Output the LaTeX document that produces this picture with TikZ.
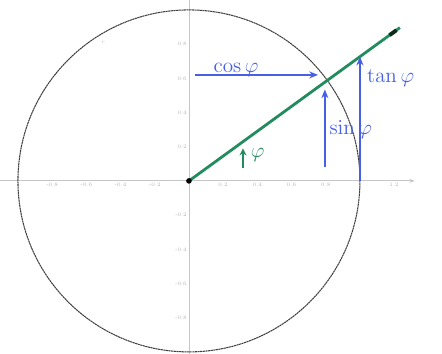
\documentclass[tikz,border=0pt]{standalone}
\usepackage{amsmath}
\usetikzlibrary{arrows.meta,positioning}

\definecolor{pengreen}{RGB}{35,140,95}
\definecolor{penblue}{RGB}{70,95,230}

\begin{document}
\begin{tikzpicture}[
  x=3.42cm, y=3.42cm,
  axis/.style={draw=gray!45, line width=0.5pt},
  ticklabel/.style={font=\fontsize{3}{3}\selectfont, text=gray!60, inner sep=1pt},
  circ/.style={draw=black!75, line width=0.6pt, dash pattern=on 1.2pt off 0.3pt},
  ray/.style={draw=pengreen, line width=1.6pt},
  pen/.style={-{Stealth[length=5pt,width=4pt]}, draw=penblue, line width=0.8pt},
  hand/.style={font=\large, text=penblue, inner sep=1pt}
]
\useasboundingbox (-1.105,-1.012) rectangle (1.480,1.058);

\coordinate (O) at (0,0);
\coordinate (xl) at (-1.105,0);
\coordinate (xr) at (1.32,0);
\coordinate (yb) at (0,-1.012);
\coordinate (yt) at (0,1.058);

\draw[axis, -{Stealth[length=3pt]}] (xl) -- (xr);
\draw[axis] (yb) -- (yt);
\foreach \v in {-0.8,-0.6,-0.4,-0.2,0.2,0.4,0.6,0.8,1.2}
  \node[ticklabel, below] (xt\v) at (\v,0) {\v};
\foreach \v in {-0.8,-0.6,-0.4,-0.2,0.2,0.4,0.6,0.8}
  \node[ticklabel, left] (yt\v) at (0,\v) {\v};

\draw[circ] (O) circle (1);
\node[ticklabel] (clabel) at (-0.50,0.81) {c};

\coordinate (rayend) at (36:1.525);
\draw[ray] (O) -- (rayend);
\draw[draw=black!70!pengreen, line width=2.2pt] (36:1.45) -- (36:1.50);
\fill (O) circle (1.6pt);

\coordinate (cosA) at (0.035,0.62);
\coordinate (cosB) at (0.755,0.62);
\coordinate (sinA) at (0.795,0.08);
\coordinate (sinB) at (0.795,0.535);
\coordinate (tanA) at (1.0,0);
\coordinate (tanB) at (1.0,0.727);

\draw[pen] (cosA) -- (cosB);
\draw[pen] (sinA) -- (sinB);
\draw[pen] (tanA) -- (tanB);

\node[hand] (coslabel) at (0.275,0.65) {$\cos\varphi$};
\node[hand, anchor=west] (sinlabel) at (0.81,0.30) {$\sin\varphi$};
\node[hand, anchor=west] (tanlabel) at (1.03,0.60) {$\tan\varphi$};

\coordinate (angA) at (0.316,0.075);
\coordinate (angB) at (0.316,0.19);
\draw[-{Stealth[length=4pt,width=4pt]}, draw=pengreen, line width=1pt] (angA) -- (angB);
\node[font=\large, text=pengreen, right=1pt of angA, anchor=south west] (anglabel) {$\varphi$};

\end{tikzpicture}
\end{document}
